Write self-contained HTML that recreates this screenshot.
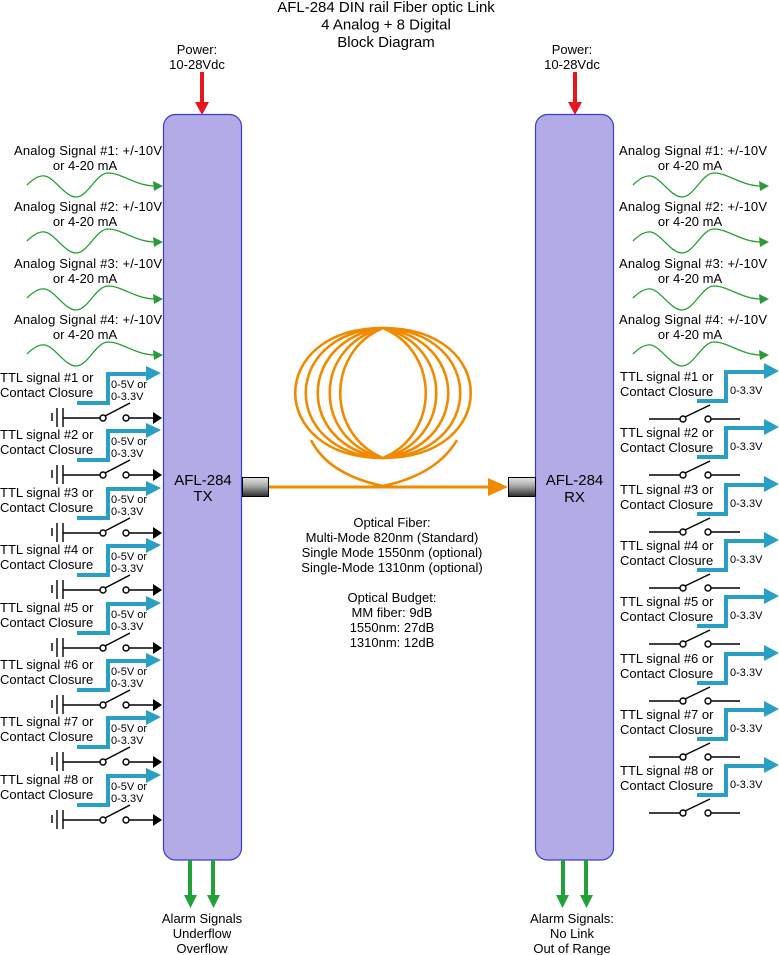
<!DOCTYPE html>
<html><head><meta charset="utf-8"><style>
html,body{margin:0;padding:0;background:#fff;}
svg{display:block;}
text{font-family:"Liberation Sans",Arial,sans-serif;fill:#000;}
</style></head><body>
<svg width="779" height="955" viewBox="0 0 779 955" xmlns="http://www.w3.org/2000/svg">
<defs>
<linearGradient id="cg" x1="0" y1="0" x2="0" y2="1">
<stop offset="0" stop-color="#e4e4e4"/><stop offset="0.45" stop-color="#a8a8a8"/><stop offset="1" stop-color="#2a2a2a"/>
</linearGradient>
<g id="wave">
<path d="M27,185 C33,179 39,175 45,176 C55,178 65,197 76,197 C88,197 96,173 108,173 C122,173 135,186 156,186" fill="none" stroke="#22a030" stroke-width="1.3"/>
<polygon points="153,181 163,186 154,191" fill="#2a9a3a"/>
</g>
<g id="ttlL" stroke="#000" stroke-width="1.4">
<path d="M77,403 H108 V374 H150" fill="none" stroke="#2a9fc6" stroke-width="4"/>
<polygon points="146,366 161,373 146,381" fill="#2a9fc6" stroke="none"/>
<line x1="52" y1="413" x2="52" y2="421"/>
<line x1="57" y1="408" x2="57" y2="427"/>
<line x1="63" y1="408" x2="63" y2="427"/>
<line x1="63" y1="418" x2="100" y2="418"/>
<circle cx="103" cy="418" r="3" fill="#fff"/>
<circle cx="126" cy="418" r="3" fill="#fff"/>
<line x1="105" y1="416" x2="130" y2="403"/>
<line x1="129" y1="418" x2="154" y2="418"/>
<polygon points="153,412 162,418 153,424" fill="#000" stroke="none"/>
</g>
<g id="ttlR" stroke="#000" stroke-width="1.4">
<path d="M697,401 H726 V372 H767" fill="none" stroke="#2a9fc6" stroke-width="4"/>
<polygon points="764,363 779,371 764,379" fill="#2a9fc6" stroke="none"/>
<line x1="649" y1="419" x2="680" y2="419"/>
<circle cx="683" cy="419" r="3" fill="#fff"/>
<circle cx="708" cy="419" r="3" fill="#fff"/>
<line x1="685" y1="417" x2="710" y2="405"/>
<line x1="711" y1="419" x2="740" y2="419"/>
</g>
</defs>

<!-- Title -->
<g font-size="15" text-anchor="middle">
<text x="386" y="12">AFL-284 DIN rail Fiber optic Link</text>
<text x="386" y="29.5">4 Analog + 8 Digital</text>
<text x="386" y="47">Block Diagram</text>
</g>

<!-- Power -->
<g font-size="13" text-anchor="middle">
<text x="197" y="54">Power:</text>
<text x="197" y="69">10-28Vdc</text>
<text x="572" y="54">Power:</text>
<text x="572" y="69">10-28Vdc</text>
</g>
<rect x="200" y="72" width="4" height="32" fill="#e8141e"/>
<polygon points="195,102 209,102 202,115" fill="#e8141e"/>
<rect x="573" y="72" width="4" height="32" fill="#e8141e"/>
<polygon points="568,102 582,102 575,115" fill="#e8141e"/>

<!-- Boxes -->
<rect x="163.5" y="114.5" width="78" height="745.5" rx="12" ry="12" fill="#b2abe6" stroke="#3c3ccf" stroke-width="1.2"/>
<rect x="535.5" y="114.5" width="78" height="745.5" rx="12" ry="12" fill="#b2abe6" stroke="#3c3ccf" stroke-width="1.2"/>
<g font-size="15" text-anchor="middle">
<text x="203" y="485">AFL-284</text>
<text x="203" y="501">TX</text>
<text x="574.5" y="485">AFL-284</text>
<text x="574.5" y="502">RX</text>
</g>

<!-- Alarm arrows -->
<g fill="#22a03a">
<rect x="188" y="860" width="4" height="36"/><polygon points="184,895 197,895 190.5,908"/>
<rect x="211" y="860" width="4" height="36"/><polygon points="207,895 220,895 213.5,908"/>
<rect x="561" y="860" width="4" height="36"/><polygon points="556,895 569,895 562.5,908"/>
<rect x="584" y="860" width="4" height="36"/><polygon points="580,895 593,895 586.5,908"/>
</g>
<g font-size="13" text-anchor="middle">
<text x="202" y="923">Alarm Signals</text>
<text x="202" y="938">Underflow</text>
<text x="202" y="953">Overflow</text>
<text x="572" y="923">Alarm Signals:</text>
<text x="572" y="938">No Link</text>
<text x="572" y="953">Out of Range</text>
</g>

<!-- Analog left -->
<g font-size="13">
<g><text x="14" y="155" textLength="148" lengthAdjust="spacing">Analog Signal #1: +/-10V</text><text x="85" y="170" text-anchor="middle">or 4-20 mA</text><use href="#wave"/></g>
<g transform="translate(0,56)"><text x="14" y="155" textLength="148" lengthAdjust="spacing">Analog Signal #2: +/-10V</text><text x="85" y="170" text-anchor="middle">or 4-20 mA</text><use href="#wave"/></g>
<g transform="translate(0,113)"><text x="14" y="155" textLength="148" lengthAdjust="spacing">Analog Signal #3: +/-10V</text><text x="85" y="170" text-anchor="middle">or 4-20 mA</text><use href="#wave"/></g>
<g transform="translate(0,169)"><text x="14" y="155" textLength="148" lengthAdjust="spacing">Analog Signal #4: +/-10V</text><text x="85" y="170" text-anchor="middle">or 4-20 mA</text><use href="#wave"/></g>
</g>
<!-- Analog right -->
<g font-size="13">
<g><text x="619" y="155" textLength="148" lengthAdjust="spacing">Analog Signal #1: +/-10V</text><text x="690" y="170" text-anchor="middle">or 4-20 mA</text><use href="#wave" x="606"/></g>
<g transform="translate(0,56)"><text x="619" y="155" textLength="148" lengthAdjust="spacing">Analog Signal #2: +/-10V</text><text x="690" y="170" text-anchor="middle">or 4-20 mA</text><use href="#wave" x="606"/></g>
<g transform="translate(0,113)"><text x="619" y="155" textLength="148" lengthAdjust="spacing">Analog Signal #3: +/-10V</text><text x="690" y="170" text-anchor="middle">or 4-20 mA</text><use href="#wave" x="606"/></g>
<g transform="translate(0,169)"><text x="619" y="155" textLength="148" lengthAdjust="spacing">Analog Signal #4: +/-10V</text><text x="690" y="170" text-anchor="middle">or 4-20 mA</text><use href="#wave" x="606"/></g>
</g>

<!-- TTL left -->
<g font-size="13">
<g><use href="#ttlL"/><text x="0" y="382">TTL signal #1 or</text><text x="0" y="397">Contact Closure</text><text x="111" y="388" font-size="11">0-5V or</text><text x="111" y="400" font-size="11">0-3.3V</text></g>
<g transform="translate(0,57)"><use href="#ttlL"/><text x="0" y="382">TTL signal #2 or</text><text x="0" y="397">Contact Closure</text><text x="111" y="388" font-size="11">0-5V or</text><text x="111" y="400" font-size="11">0-3.3V</text></g>
<g transform="translate(0,115)"><use href="#ttlL"/><text x="0" y="382">TTL signal #3 or</text><text x="0" y="397">Contact Closure</text><text x="111" y="388" font-size="11">0-5V or</text><text x="111" y="400" font-size="11">0-3.3V</text></g>
<g transform="translate(0,172)"><use href="#ttlL"/><text x="0" y="382">TTL signal #4 or</text><text x="0" y="397">Contact Closure</text><text x="111" y="388" font-size="11">0-5V or</text><text x="111" y="400" font-size="11">0-3.3V</text></g>
<g transform="translate(0,230)"><use href="#ttlL"/><text x="0" y="382">TTL signal #5 or</text><text x="0" y="397">Contact Closure</text><text x="111" y="388" font-size="11">0-5V or</text><text x="111" y="400" font-size="11">0-3.3V</text></g>
<g transform="translate(0,287)"><use href="#ttlL"/><text x="0" y="382">TTL signal #6 or</text><text x="0" y="397">Contact Closure</text><text x="111" y="388" font-size="11">0-5V or</text><text x="111" y="400" font-size="11">0-3.3V</text></g>
<g transform="translate(0,344)"><use href="#ttlL"/><text x="0" y="382">TTL signal #7 or</text><text x="0" y="397">Contact Closure</text><text x="111" y="388" font-size="11">0-5V or</text><text x="111" y="400" font-size="11">0-3.3V</text></g>
<g transform="translate(0,402)"><use href="#ttlL"/><text x="0" y="382">TTL signal #8 or</text><text x="0" y="397">Contact Closure</text><text x="111" y="388" font-size="11">0-5V or</text><text x="111" y="400" font-size="11">0-3.3V</text></g>
</g>

<!-- TTL right -->
<g font-size="13">
<g><use href="#ttlR"/><text x="620" y="381">TTL signal #1 or</text><text x="620" y="396">Contact Closure</text><text x="730" y="394" font-size="11">0-3.3V</text></g>
<g transform="translate(0,56)"><use href="#ttlR"/><text x="620" y="381">TTL signal #2 or</text><text x="620" y="396">Contact Closure</text><text x="730" y="394" font-size="11">0-3.3V</text></g>
<g transform="translate(0,113)"><use href="#ttlR"/><text x="620" y="381">TTL signal #3 or</text><text x="620" y="396">Contact Closure</text><text x="730" y="394" font-size="11">0-3.3V</text></g>
<g transform="translate(0,169)"><use href="#ttlR"/><text x="620" y="381">TTL signal #4 or</text><text x="620" y="396">Contact Closure</text><text x="730" y="394" font-size="11">0-3.3V</text></g>
<g transform="translate(0,225)"><use href="#ttlR"/><text x="620" y="381">TTL signal #5 or</text><text x="620" y="396">Contact Closure</text><text x="730" y="394" font-size="11">0-3.3V</text></g>
<g transform="translate(0,282)"><use href="#ttlR"/><text x="620" y="381">TTL signal #6 or</text><text x="620" y="396">Contact Closure</text><text x="730" y="394" font-size="11">0-3.3V</text></g>
<g transform="translate(0,338)"><use href="#ttlR"/><text x="620" y="381">TTL signal #7 or</text><text x="620" y="396">Contact Closure</text><text x="730" y="394" font-size="11">0-3.3V</text></g>
<g transform="translate(0,394)"><use href="#ttlR"/><text x="620" y="381">TTL signal #8 or</text><text x="620" y="396">Contact Closure</text><text x="730" y="394" font-size="11">0-3.3V</text></g>
</g>

<!-- Fiber coil -->
<g fill="none" stroke="#f08a00" stroke-width="2.6">
<path d="M383,328 C500,328 500,458 383,458 C266,458 266,328 383,328 Z"/>
<path d="M383,328 C486,333 486,453 383,458 C280,453 280,333 383,328 Z"/>
<path d="M383,328 C470,340 470,446 383,458 C296,446 296,340 383,328 Z"/>
<path d="M383,328 C454,346 454,440 383,458 C312,440 312,346 383,328 Z"/>
<path d="M383,328 C440,352 440,434 383,458 C326,434 326,352 383,328 Z"/>
<path d="M311,440 C322,462 345,478 383,486 L400,487"/>
<path d="M457,440 C444,462 421,478 383,486 L366,487"/>
</g>
<rect x="269" y="485.5" width="221" height="3" fill="#f08a00"/>
<polygon points="488,478 508,487 488,496" fill="#f08a00"/>

<!-- Connectors -->
<rect x="242.5" y="477.5" width="26" height="19" fill="url(#cg)" stroke="#000" stroke-width="1"/>
<rect x="508.5" y="477.5" width="27" height="19" fill="url(#cg)" stroke="#000" stroke-width="1"/>

<!-- Center text -->
<g font-size="13" text-anchor="middle">
<text x="392" y="527">Optical Fiber:</text>
<text x="392" y="542">Multi-Mode 820nm (Standard)</text>
<text x="392" y="557">Single Mode 1550nm (optional)</text>
<text x="392" y="572">Single-Mode 1310nm (optional)</text>
<text x="392" y="602">Optical Budget:</text>
<text x="392" y="617">MM fiber: 9dB</text>
<text x="392" y="632">1550nm: 27dB</text>
<text x="392" y="647">1310nm: 12dB</text>
</g>
</svg>
</body></html>
